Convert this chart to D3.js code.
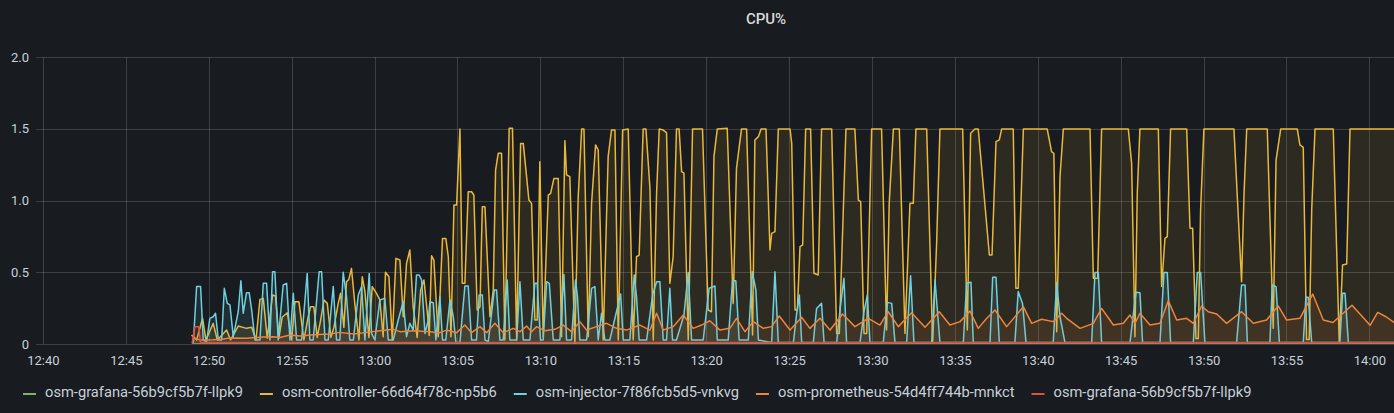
<!DOCTYPE html>
<html><head><meta charset="utf-8">
<script src="https://cdn.jsdelivr.net/npm/d3@7"></script>
<style>
html,body{margin:0;padding:0;background:#181b1f;overflow:hidden;}
svg{display:block;}
text{font-family:Roboto,"Noto Sans",sans-serif;}
</style></head><body>
<svg id="chart" width="1394" height="413"></svg>
<script>
// ---------- data ----------
const chartTitle = "CPU%";
const seriesNames = [
  "osm-grafana-56b9cf5b7f-llpk9",
  "osm-controller-66d64f78c-np5b6",
  "osm-injector-7f86fcb5d5-vnkvg",
  "osm-prometheus-54d4ff744b-mnkct",
  "osm-grafana-56b9cf5b7f-llpk9"
];
const seriesColors = ["#7EB26D", "#EAB839", "#6ED0E0", "#EF843C", "#E24D42"];
const clockOrigin = "12:40:00";          // minutes below are offsets from this clock time
const viewStart = "12:39:35";
const viewEnd = "14:01:29";
const xTickLabels = ["12:40","12:45","12:50","12:55","13:00","13:05","13:10","13:15","13:20",
                     "13:25","13:30","13:35","13:40","13:45","13:50","13:55","14:00"];
const yTickValues = [0, 0.5, 1.0, 1.5, 2.0];
const yTickLabels = ["0", "0.5", "1.0", "1.5", "2.0"];

// [minutes after 12:40, CPU]
const grafanaA = [[9.0,0.0],[81.48,0.0]];
const controller = [
[8.97,0.063],[9.27,0.028],[9.63,0.179],[9.83,0.028],[10.27,0.144],[10.52,0.028],[11.08,0.097],[11.32,0.028],
[11.78,0.125],[12.28,0.109],[12.59,0.116],[12.85,0.028],[13.09,0.311],[13.29,0.318],[13.53,0.04],[13.85,0.341],
[14.03,0.334],[14.23,0.04],[14.43,0.186],[14.74,0.218],[15.0,0.028],[15.2,0.295],[15.44,0.295],[15.74,0.028],
[16.0,0.19],[16.14,0.26],[16.34,0.26],[16.54,0.046],[16.75,0.167],[16.95,0.307],[17.15,0.283],[17.37,0.046],
[17.55,0.116],[17.81,0.283],[17.95,0.353],[18.15,0.116],[18.31,0.434],[18.45,0.45],[18.61,0.527],[18.82,0.272],
[19.06,0.028],[19.26,0.469],[19.42,0.365],[19.66,0.046],[19.86,0.4],[20.12,0.353],[20.32,0.307],[20.52,0.051],
[20.66,0.5],[20.87,0.469],[21.07,0.028],[21.29,0.597],[21.53,0.585],[21.73,0.19],[21.93,0.562],[22.13,0.655],
[22.33,0.26],[22.57,0.046],[22.78,0.376],[22.98,0.446],[23.18,0.225],[23.3,0.06],[23.44,0.615],[23.58,0.585],
[23.84,0.051],[24.1,0.736],[24.3,0.736],[24.45,0.608],[24.61,0.051],[24.79,0.969],[24.95,0.969],[25.15,1.498],
[25.29,0.423],[25.45,0.423],[25.65,1.061],[25.85,1.061],[25.99,1.038],[26.19,0.237],[26.36,0.26],[26.5,0.957],
[26.66,0.957],[26.96,0.19],[27.16,0.376],[27.3,1.212],[27.46,1.329],[27.66,1.329],[27.86,0.028],[28.12,1.503],
[28.32,1.503],[28.57,0.028],[28.81,1.398],[28.97,1.398],[29.17,1.166],[29.31,1.003],[29.47,0.98],[29.67,0.167],
[29.81,0.167],[29.97,1.27],[30.17,0.051],[30.48,1.038],[30.62,1.05],[30.82,1.154],[31.08,1.154],[31.28,0.051],
[31.48,1.417],[31.58,1.178],[31.78,1.166],[32.08,0.004],[32.28,1.015],[32.49,1.498],[32.63,1.498],[32.89,0.051],
[33.09,0.98],[33.33,1.387],[33.49,1.352],[33.79,0.028],[34.09,1.306],[34.29,1.491],[34.5,1.491],[34.7,0.028],
[34.96,1.491],[35.3,1.498],[35.6,0.028],[35.8,0.608],[35.96,0.62],[36.2,1.498],[36.37,1.498],[36.61,1.085],
[36.81,0.028],[37.01,1.05],[37.17,1.498],[37.41,1.491],[37.61,1.473],[37.81,0.423],[38.01,0.608],[38.21,1.498],
[38.37,1.498],[38.52,1.201],[38.66,1.19],[38.92,0.028],[39.18,1.498],[39.78,1.498],[40.12,0.237],[40.32,0.225],
[40.47,1.306],[40.67,1.498],[41.27,1.503],[41.63,0.283],[41.83,1.224],[42.13,1.498],[42.44,1.498],[42.8,0.063],
[42.94,1.422],[43.15,1.445],[43.31,1.498],[43.61,1.498],[43.85,0.655],[43.95,0.771],[44.15,0.783],[44.35,1.498],
[45.06,1.498],[45.16,1.398],[45.36,0.237],[45.5,0.237],[45.66,0.678],[45.82,0.69],[46.0,1.498],[46.3,1.498],
[46.5,0.493],[46.76,0.481],[46.96,1.498],[47.57,1.498],[47.87,0.074],[48.03,0.074],[48.43,1.498],[48.97,1.498],
[49.18,1.003],[49.32,0.992],[49.52,0.074],[49.68,0.074],[49.98,1.498],[50.58,1.498],[50.88,0.098],[51.04,0.98],
[51.29,1.498],[51.65,1.498],[51.99,0.074],[52.29,0.98],[52.49,0.98],[52.65,1.498],[53.3,1.498],[53.66,0.011],
[53.9,0.702],[54.1,1.498],[55.47,1.498],[55.75,0.098],[55.95,1.468],[56.21,1.498],[56.41,1.498],[57.08,0.62],
[57.24,0.62],[57.48,1.41],[57.68,1.422],[57.82,1.498],[58.52,1.498],[58.68,0.388],[58.82,0.388],[59.13,1.498],
[60.57,1.498],[60.83,1.34],[60.97,1.329],[61.14,0.086],[61.34,1.166],[61.54,1.498],[63.15,1.498],[63.35,0.458],
[63.61,0.458],[63.85,1.498],[65.46,1.498],[65.66,1.259],[65.86,0.051],[66.0,1.05],[66.16,1.498],[67.27,1.498],
[67.47,0.4],[67.67,0.736],[67.81,0.748],[68.01,1.498],[68.98,1.498],[69.18,0.806],[69.34,0.806],[69.54,0.039],
[69.68,0.039],[69.82,0.934],[70.02,1.498],[71.83,1.498],[72.29,0.434],[72.44,1.05],[72.6,1.498],[73.84,1.498],
[74.2,0.109],[74.37,1.282],[74.65,1.498],[75.65,1.498],[75.81,1.387],[76.01,1.37],[76.21,0.032],[76.37,0.032],
[76.52,0.934],[76.72,1.498],[77.82,1.498],[78.18,0.016],[78.38,0.55],[78.63,0.557],[78.83,1.498],[81.48,1.498]
];
const injector = [
[9.07,0.005],[9.27,0.4],[9.51,0.4],[9.67,0.028],[9.87,0.016],[10.07,0.179],[10.27,0.19],[10.41,0.214],[10.58,0.028],
[10.78,0.028],[10.94,0.388],[11.12,0.283],[11.28,0.272],[11.48,0.051],[11.78,0.225],[11.94,0.441],[12.08,0.214],
[12.28,0.358],[12.44,0.358],[12.59,0.237],[12.79,0.028],[13.09,0.028],[13.29,0.423],[13.49,0.423],[13.69,0.028],
[13.85,0.504],[13.99,0.504],[14.19,0.028],[14.49,0.411],[14.7,0.423],[14.9,0.028],[15.1,0.353],[15.3,0.028],
[15.6,0.028],[15.94,0.492],[16.1,0.028],[16.3,0.028],[16.66,0.504],[16.81,0.504],[17.01,0.028],[17.21,0.028],
[17.51,0.4],[17.71,0.028],[17.91,0.028],[18.11,0.5],[18.31,0.33],[18.51,0.028],[18.72,0.028],[19.02,0.341],
[19.22,0.4],[19.42,0.028],[19.68,0.492],[19.82,0.074],[20.02,0.028],[20.32,0.307],[20.62,0.318],[20.83,0.028],
[21.13,0.028],[21.43,0.167],[21.73,0.295],[21.93,0.051],[22.13,0.144],[22.33,0.097],[22.53,0.481],[22.69,0.481],
[22.84,0.446],[23.04,0.074],[23.24,0.167],[23.34,0.295],[23.54,0.288],[23.7,0.028],[23.94,0.33],[24.1,0.028],
[24.3,0.028],[24.55,0.307],[24.75,0.19],[24.91,0.01],[25.15,0.01],[25.45,0.404],[25.65,0.404],[25.85,0.028],
[26.15,0.028],[26.31,0.341],[26.5,0.341],[26.66,0.028],[26.86,0.016],[27.06,0.214],[27.22,0.376],[27.36,0.376],
[27.56,0.028],[27.76,0.028],[28.0,0.446],[28.16,0.028],[28.57,0.028],[28.77,0.434],[28.97,0.028],[29.37,0.028],
[29.67,0.423],[29.81,0.423],[30.01,0.028],[30.17,0.028],[30.38,0.434],[30.54,0.423],[30.78,0.028],[31.18,0.028],
[31.42,0.485],[31.58,0.028],[31.88,0.028],[32.12,0.446],[32.24,0.33],[32.38,0.028],[32.79,0.028],[33.09,0.388],
[33.29,0.4],[33.49,0.028],[33.69,0.214],[33.89,0.028],[34.19,0.028],[34.84,0.348],[35.0,0.028],[35.4,0.028],
[35.66,0.481],[35.8,0.33],[35.96,0.028],[36.41,0.028],[36.77,0.341],[37.01,0.434],[37.21,0.434],[37.41,0.028],
[37.61,0.028],[37.81,0.388],[37.97,0.028],[38.21,0.028],[38.66,0.202],[38.92,0.499],[39.12,0.028],[39.82,0.028],
[40.18,0.388],[40.53,0.404],[40.67,0.028],[41.33,0.028],[41.59,0.441],[41.79,0.441],[41.99,0.028],[42.54,0.028],
[42.78,0.504],[43.0,0.376],[43.15,0.028],[43.95,0.01],[44.15,0.504],[44.35,0.01],[45.26,0.01],[45.46,0.214],
[45.62,0.341],[45.76,0.01],[46.46,0.01],[46.66,0.248],[46.96,0.283],[47.11,0.01],[47.87,0.01],[48.07,0.237],
[48.31,0.458],[48.47,0.01],[49.28,0.01],[49.52,0.225],[49.72,0.341],[49.88,0.01],[50.68,0.01],[50.92,0.29],
[51.19,0.283],[51.39,0.01],[52.09,0.01],[52.33,0.476],[52.53,0.01],[53.6,0.01],[53.8,0.446],[54.1,0.01],
[55.51,0.01],[55.71,0.423],[55.97,0.43],[56.11,0.01],[57.12,0.01],[57.28,0.465],[57.48,0.465],[57.68,0.01],
[58.62,0.01],[58.82,0.365],[59.08,0.283],[59.29,0.01],[60.93,0.01],[61.14,0.427],[61.34,0.19],[61.64,0.01],
[63.25,0.01],[63.45,0.499],[63.65,0.499],[63.85,0.01],[65.56,0.01],[65.92,0.36],[66.16,0.358],[66.32,0.01],
[67.37,0.01],[67.61,0.499],[67.81,0.499],[68.01,0.01],[69.38,0.01],[69.62,0.499],[69.82,0.499],[70.08,0.01],
[71.99,0.01],[72.29,0.411],[72.5,0.411],[72.64,0.01],[74.0,0.01],[74.14,0.411],[74.37,0.4],[74.57,0.01],
[76.01,0.01],[76.17,0.325],[76.31,0.325],[76.52,0.01],[78.22,0.01],[78.38,0.353],[78.53,0.353],[78.73,0.01],
[81.48,0.01]
];
const prometheus = [
[8.97,0.063],[9.17,0.04],[9.47,0.028],[10.27,0.03],[10.88,0.035],[11.28,0.042],[12.28,0.04],[13.29,0.049],
[13.89,0.051],[14.29,0.046],[14.9,0.063],[15.5,0.056],[16.3,0.065],[17.31,0.07],[17.91,0.081],[18.72,0.07],
[19.52,0.081],[20.32,0.093],[21.13,0.102],[21.53,0.086],[22.33,0.093],[23.34,0.086],[23.94,0.079],[24.35,0.097],
[24.95,0.079],[25.45,0.132],[25.85,0.079],[26.36,0.121],[26.76,0.079],[27.26,0.144],[27.76,0.079],[28.37,0.109],
[28.77,0.086],[29.17,0.125],[29.47,0.086],[29.77,0.121],[30.27,0.093],[30.88,0.102],[31.38,0.132],[31.88,0.086],
[32.38,0.156],[32.79,0.097],[33.39,0.121],[34.0,0.144],[34.6,0.109],[35.2,0.097],[36.0,0.132],[36.61,0.097],
[37.01,0.214],[37.41,0.097],[38.01,0.121],[38.62,0.202],[39.22,0.109],[39.72,0.132],[40.22,0.162],[40.83,0.097],
[41.43,0.109],[41.83,0.179],[42.34,0.086],[42.84,0.156],[43.45,0.109],[43.95,0.121],[44.41,0.195],[45.06,0.097],
[45.76,0.186],[46.26,0.109],[46.86,0.179],[47.47,0.097],[48.23,0.209],[48.97,0.121],[49.78,0.179],[50.48,0.132],
[50.98,0.225],[51.59,0.121],[52.39,0.218],[53.2,0.116],[54.06,0.225],[54.7,0.132],[55.31,0.156],[55.91,0.23],
[56.41,0.109],[56.87,0.172],[57.42,0.237],[58.12,0.121],[59.13,0.26],[59.63,0.144],[60.23,0.172],[60.93,0.156],
[61.44,0.214],[61.74,0.179],[62.55,0.109],[63.35,0.144],[63.85,0.248],[64.56,0.132],[65.16,0.144],[65.56,0.202],
[65.86,0.144],[66.16,0.214],[66.77,0.132],[67.37,0.144],[67.87,0.302],[68.38,0.167],[68.98,0.179],[69.38,0.144],
[69.88,0.265],[70.28,0.225],[70.79,0.209],[71.39,0.144],[72.29,0.225],[73.0,0.144],[73.8,0.167],[74.5,0.265],
[75.01,0.167],[75.81,0.179],[76.58,0.348],[77.22,0.167],[77.8,0.15],[78.95,0.27],[79.5,0.2],[80.04,0.13],
[80.5,0.22],[81.0,0.19],[81.48,0.15]
];
const grafanaB = [[9.0,0.005],[9.17,0.12],[9.4,0.12],[9.5,0.01],[81.48,0.01]];
const seriesData = [grafanaA, controller, injector, prometheus, grafanaB];

// ---------- chart ----------
const W = 1394, H = 413;
const plot = {left: 36, right: 1394, top: 57, bottom: 344};
const svg = d3.select("#chart");
const parseClock = d3.timeParse("%H:%M:%S");
const parseTick = d3.timeParse("%H:%M");
const origin = parseClock(clockOrigin);
const toDate = m => new Date(origin.getTime() + m * 60000);

const x = d3.scaleTime().domain([parseClock(viewStart), parseClock(viewEnd)]).range([plot.left, plot.right]);
const y = d3.scaleLinear().domain([0, 2]).range([plot.bottom, plot.top]);
const xTicks = xTickLabels.map(parseTick);

svg.append("rect").attr("width", W).attr("height", H).attr("fill", "#181b1f");

svg.append("text").attr("x", 766).attr("y", 24).attr("text-anchor", "middle")
  .attr("fill", "#d8d9da").attr("font-size", 15).attr("font-weight", 500).text(chartTitle);

// grid
const grid = svg.append("g").attr("stroke", "rgba(255,255,255,0.16)").attr("stroke-width", 1);
grid.selectAll("line.v").data(xTicks).join("line").attr("class", "v")
  .attr("x1", d => Math.round(x(d)) + 0.5).attr("x2", d => Math.round(x(d)) + 0.5)
  .attr("y1", plot.top).attr("y2", plot.bottom);
grid.selectAll("line.h").data(yTickValues).join("line").attr("class", "h")
  .attr("x1", plot.left).attr("x2", plot.right)
  .attr("y1", d => Math.round(y(d)) + 0.5).attr("y2", d => Math.round(y(d)) + 0.5);

// axes
const xAxis = svg.append("g").attr("transform", `translate(0,${plot.bottom})`)
  .call(d3.axisBottom(x).tickValues(xTicks).tickFormat((d, i) => xTickLabels[i]).tickSize(0).tickPadding(12));
const yAxis = svg.append("g").attr("transform", `translate(${plot.left},0)`)
  .call(d3.axisLeft(y).tickValues(yTickValues).tickFormat((d, i) => yTickLabels[i]).tickSize(0).tickPadding(7));
[xAxis, yAxis].forEach(a => {
  a.select(".domain").remove();
  a.selectAll("text").attr("fill", "#c7d0d9").attr("font-size", 13).attr("font-family", "Roboto, 'Noto Sans', sans-serif");
});

// series
svg.append("clipPath").attr("id", "clip").append("rect")
  .attr("x", plot.left).attr("y", plot.top - 2).attr("width", plot.right - plot.left).attr("height", plot.bottom - plot.top + 2);
const g = svg.append("g").attr("clip-path", "url(#clip)");
const line = d3.line().x(d => x(toDate(d[0]))).y(d => y(d[1]));
const area = d3.area().x(d => x(toDate(d[0]))).y0(y(0)).y1(d => y(d[1]));
seriesData.forEach((s, i) => {
  g.append("path").attr("d", area(s)).attr("fill", seriesColors[i]).attr("fill-opacity", 0.1);
  g.append("path").attr("d", line(s)).attr("fill", "none").attr("stroke", seriesColors[i])
    .attr("stroke-width", 1.5).attr("stroke-linejoin", "round");
});

// legend
const legend = svg.append("g");
let lx = 23;
seriesNames.forEach((name, i) => {
  legend.append("rect").attr("x", lx).attr("y", 393).attr("width", 13).attr("height", 2).attr("fill", seriesColors[i]);
  const t = legend.append("text").attr("x", lx + 22).attr("y", 397).attr("fill", "#c7d0d9")
    .attr("font-size", 14.7).text(name);
  lx = lx + 22 + t.node().getComputedTextLength() + 17;
});
</script>
</body></html>
